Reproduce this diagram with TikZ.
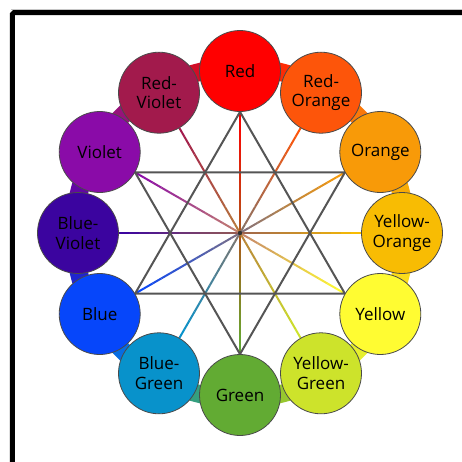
\documentclass[tikz,border=0pt]{standalone}
\usepackage{fontspec}
\setmainfont{Open Sans}
\usetikzlibrary{calc,backgrounds}

% wheel colours
\definecolor{w-red}{HTML}{FF0000}
\definecolor{w-redorange}{HTML}{FD550A}
\definecolor{w-orange}{HTML}{F89A08}
\definecolor{w-yelloworange}{HTML}{F8BC03}
\definecolor{w-yellow}{HTML}{FFFC32}
\definecolor{w-yellowgreen}{HTML}{CDE32B}
\definecolor{w-green}{HTML}{62AB33}
\definecolor{w-bluegreen}{HTML}{0892CB}
\definecolor{w-blue}{HTML}{0646FA}
\definecolor{w-blueviolet}{HTML}{3B049F}
\definecolor{w-violet}{HTML}{8A0BA8}
\definecolor{w-redviolet}{HTML}{A21A4C}
\definecolor{rimgray}{HTML}{4A4A4A}
\definecolor{stargray}{HTML}{555555}

\begin{document}
\begin{tikzpicture}[x=1pt,y=1pt,
  hue/.style={draw=rimgray,line width=0.8pt,circle,minimum size=81pt,inner sep=0pt,align=center,font=\fontsize{17}{19.5}\selectfont},
  band/.style={line width=18pt},
  spoke/.style={line width=2pt},
  starline/.style={draw=stargray,line width=2pt,line join=round}]
  \useasboundingbox (-240,-228) rectangle (222,233);
  \clip (-240,-228) rectangle (222,233);
  % frame
  \draw[gray!45,line width=0.9pt] (-229,223.7) -- (230,223.7);
  \draw[line width=5pt,rounded corners=1.5pt] (-227.5,-240) -- (-227.5,220.3) -- (240,220.3);
  % the twelve hues
  \node[hue,fill=w-red] (red) at (90:162) {Red};
  \node[hue,fill=w-redorange] (redorange) at (60:162) {Red-\\Orange};
  \node[hue,fill=w-orange] (orange) at (30:162) {Orange};
  \node[hue,fill=w-yelloworange] (yelloworange) at (0:162) {Yellow-\\Orange};
  \node[hue,fill=w-yellow] (yellow) at (-30:162) {Yellow};
  \node[hue,fill=w-yellowgreen] (yellowgreen) at (-60:162) {Yellow-\\Green};
  \node[hue,fill=w-green] (green) at (-90:162) {Green};
  \node[hue,fill=w-bluegreen] (bluegreen) at (-120:162) {Blue-\\Green};
  \node[hue,fill=w-blue] (blue) at (-150:162) {Blue};
  \node[hue,fill=w-blueviolet] (blueviolet) at (180:162) {Blue-\\Violet};
  \node[hue,fill=w-violet] (violet) at (150:162) {Violet};
  \node[hue,fill=w-redviolet] (redviolet) at (120:162) {Red-\\Violet};
  \begin{scope}[on background layer]
    % ring behind the circles
    \foreach \a/\b [count=\i from 0] in {red/redorange,redorange/orange,orange/yelloworange,yelloworange/yellow,yellow/yellowgreen,yellowgreen/green,green/bluegreen,bluegreen/blue,blue/blueviolet,blueviolet/violet,violet/redviolet,redviolet/red}
      \draw[band,w-\a!50!w-\b] (90-30*\i:166) arc[start angle=90-30*\i,end angle=60-30*\i,radius=166];
    % complementary spokes
    \foreach \p/\pa/\q/\qa in {red/270/green/90,redorange/240/bluegreen/60,orange/210/blue/30,yelloworange/180/blueviolet/0,yellow/150/violet/330,yellowgreen/120/redviolet/300}{
      \foreach \k in {0,...,23}{
        \pgfmathtruncatemacro\pct{round(100*\k/23)}
        \draw[spoke,w-\q!\pct!w-\p] ($(\p.\pa)!\k/24!(\q.\qa)$) -- ($(\p.\pa)!\k/24+1/24!(\q.\qa)$);
      }
    }
    % hexagram
    \draw[starline] (red.270) -- (yellow.150) -- (blue.30) -- cycle;
    \draw[starline] (green.90) -- (violet.330) -- (orange.210) -- cycle;
  \end{scope}
  \node[circle,fill=black!80,inner sep=0pt,minimum size=4.5pt] (hub) at (0,0) {};
\end{tikzpicture}
\end{document}
